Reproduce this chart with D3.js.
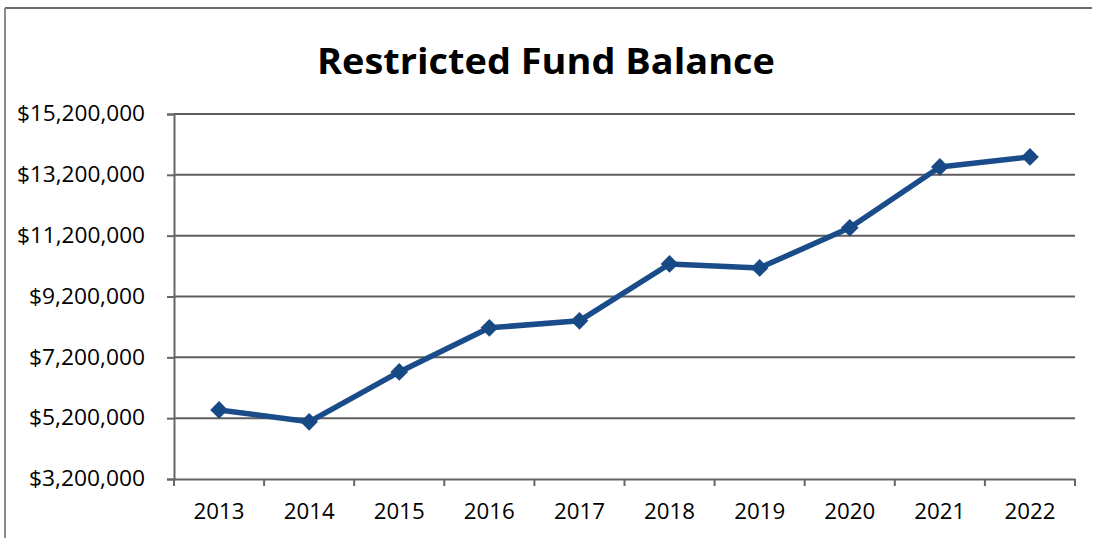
<!DOCTYPE html>
<html><head><meta charset="utf-8">
<script src="https://cdn.jsdelivr.net/npm/d3@7"></script>
<style>
html,body{margin:0;padding:0;background:#fff;}
svg{display:block;font-family:"Open Sans", Lato, sans-serif;}
</style></head>
<body>
<script>
const years = ["2013","2014","2015","2016","2017","2018","2019","2020","2021","2022"];
const balances = [5470000, 5080000, 6720000, 8170000, 8400000, 10270000, 10140000, 11460000, 13460000, 13790000];
const yTicks = [3200000, 5200000, 7200000, 9200000, 11200000, 13200000, 15200000];
const title = "Restricted Fund Balance";

const W = 1094, H = 538;
const FONT = "'Open Sans', Lato, sans-serif";
const svg = d3.select("body").append("svg").attr("width", W).attr("height", H);

// outer frame
svg.append("line").attr("x1",5).attr("x2",1092).attr("y1",8).attr("y2",8).attr("stroke","#6a6a6a").attr("stroke-width",2);
svg.append("line").attr("x1",5).attr("x2",5).attr("y1",8).attr("y2",538).attr("stroke","#8a8a8a").attr("stroke-width",2);

const x = d3.scaleBand().domain(years).range([174, 1075]);
const y = d3.scaleLinear().domain([3200000, 15200000]).range([479, 114]);

// title
svg.append("text").attr("x", 546).attr("y", 74).attr("text-anchor","middle")
  .attr("font-size", 36).attr("font-weight", 700).attr("fill","#000")
  .attr("font-family", FONT)
  .attr("textLength", 458).attr("lengthAdjust","spacingAndGlyphs").text(title);

// gridlines
svg.append("g").selectAll("line").data(yTicks.slice(1)).join("line")
  .attr("x1", 174).attr("x2", 1075).attr("y1", d=>y(d)).attr("y2", d=>y(d))
  .attr("stroke","#5e5e5e").attr("stroke-width",2);

// y axis
const fmt = d => "$" + d3.format(",")(d);
const ya = svg.append("g").attr("transform","translate(174,0)")
  .call(d3.axisLeft(y).tickValues(yTicks).tickFormat(fmt).tickSize(7).tickPadding(22));
ya.select(".domain").attr("stroke","#666").attr("stroke-width",2);
ya.selectAll(".tick line").attr("stroke","#666").attr("stroke-width",2);
ya.selectAll(".tick text").attr("font-size",21).attr("fill","#000").attr("font-family",FONT)
  .attr("textLength", d => d >= 10000000 ? 128 : 116).attr("lengthAdjust","spacingAndGlyphs");

// x axis
const xa = svg.append("g").attr("transform","translate(0,479)")
  .call(d3.axisBottom(x).tickSize(0).tickPadding(25));
xa.select(".domain").attr("stroke","#666").attr("stroke-width",2);
xa.selectAll(".tick text").attr("font-size",21).attr("fill","#000").attr("font-family",FONT)
  .attr("textLength", 51).attr("lengthAdjust","spacingAndGlyphs");
// category boundary ticks
const bounds = years.map(d => x(d)).concat([x.range()[1]]);
xa.append("g").selectAll("line").data(bounds).join("line")
  .attr("x1", d=>d).attr("x2", d=>d).attr("y1",0).attr("y2",7)
  .attr("stroke","#666").attr("stroke-width",2);

// line
const cx = d => x(d) + x.bandwidth()/2;
const pts = years.map((yr,i)=>[cx(yr), y(balances[i])]);
svg.append("path").attr("d", d3.line()(pts)).attr("fill","none")
  .attr("stroke","#1A4C8A").attr("stroke-width",5.5).attr("stroke-linejoin","round");

// markers
svg.append("g").selectAll("path").data(years).join("path")
  .attr("transform",(d,i)=>`translate(${cx(d)},${y(balances[i])})`)
  .attr("d", d3.symbol(d3.symbolDiamond2, 200)())
  .attr("fill","#174A84");
</script>
</body></html>
